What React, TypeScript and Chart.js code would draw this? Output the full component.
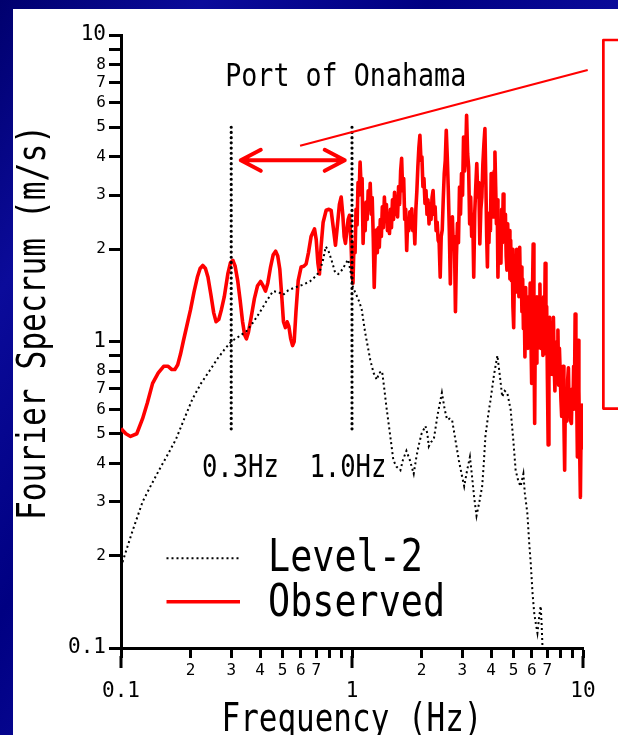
import React, { useEffect, useRef } from 'react';
import { Chart, registerables } from 'chart.js';

Chart.register(...registerables);

const FONT = '"DejaVu Sans Mono", "Liberation Mono", monospace';

// ---- data ----
const seriesNames = ['Level-2', 'Observed'];

const level2Points: [number, number][] = [
  [0.100, 0.184], [0.112, 0.24], [0.124, 0.30], [0.135, 0.34], [0.146, 0.38], [0.160, 0.43],
  [0.173, 0.48], [0.188, 0.56], [0.204, 0.65], [0.222, 0.73], [0.241, 0.80], [0.262, 0.88],
  [0.280, 0.94], [0.300, 1.00], [0.325, 1.04], [0.349, 1.08], [0.375, 1.16], [0.400, 1.25],
  [0.428, 1.36], [0.455, 1.46], [0.480, 1.45], [0.503, 1.42], [0.530, 1.47], [0.565, 1.50],
  [0.610, 1.53], [0.657, 1.57], [0.700, 1.64], [0.726, 1.70], [0.750, 1.85], [0.770, 2.04],
  [0.790, 1.98], [0.816, 1.84], [0.845, 1.68], [0.872, 1.66], [0.910, 1.72], [0.940, 1.80],
  [0.963, 1.85], [0.985, 1.70], [1.010, 1.50], [1.040, 1.43], [1.070, 1.36], [1.100, 1.28],
  [1.140, 1.07], [1.200, 0.87], [1.240, 0.79], [1.280, 0.75], [1.310, 0.79], [1.350, 0.80],
  [1.380, 0.70], [1.410, 0.61], [1.460, 0.50], [1.510, 0.41], [1.560, 0.39], [1.620, 0.38],
  [1.660, 0.41], [1.720, 0.44], [1.780, 0.41], [1.850, 0.37], [1.900, 0.42], [1.940, 0.455],
  [2.000, 0.50], [2.080, 0.53], [2.120, 0.50], [2.150, 0.455], [2.200, 0.47], [2.260, 0.48],
  [2.350, 0.58], [2.450, 0.68], [2.520, 0.60], [2.580, 0.556], [2.650, 0.56], [2.710, 0.556],
  [2.800, 0.48], [2.900, 0.41], [2.980, 0.37], [3.060, 0.337], [3.150, 0.38], [3.240, 0.42],
  [3.300, 0.37], [3.380, 0.31], [3.460, 0.27], [3.560, 0.30], [3.660, 0.337], [3.720, 0.40],
  [3.780, 0.49], [3.880, 0.57], [3.980, 0.646], [4.120, 0.78], [4.260, 0.90], [4.360, 0.78],
  [4.470, 0.66], [4.580, 0.69], [4.700, 0.68], [4.860, 0.60], [5.000, 0.47], [5.110, 0.38],
  [5.250, 0.35], [5.370, 0.337], [5.520, 0.37], [5.600, 0.32], [5.740, 0.276], [5.850, 0.22],
  [5.940, 0.189], [6.050, 0.15], [6.150, 0.13], [6.250, 0.12], [6.350, 0.112], [6.450, 0.125],
  [6.560, 0.137], [6.620, 0.12], [6.680, 0.10],
];

const observedPoints: [number, number][] = [
  [0.100, 0.52], [0.105, 0.50], [0.110, 0.49], [0.117, 0.50], [0.124, 0.56], [0.130, 0.63],
  [0.137, 0.73], [0.145, 0.79], [0.153, 0.83], [0.160, 0.83], [0.166, 0.81], [0.171, 0.81],
  [0.176, 0.84], [0.181, 0.91], [0.186, 1.00], [0.193, 1.13], [0.200, 1.27], [0.207, 1.45],
  [0.214, 1.62], [0.220, 1.73], [0.226, 1.77], [0.232, 1.73], [0.238, 1.62], [0.245, 1.42],
  [0.252, 1.24], [0.258, 1.16], [0.265, 1.18], [0.272, 1.27], [0.280, 1.40], [0.290, 1.66],
  [0.298, 1.81], [0.305, 1.84], [0.312, 1.76], [0.320, 1.58], [0.328, 1.36], [0.336, 1.16],
  [0.343, 1.05], [0.349, 1.02], [0.356, 1.07], [0.366, 1.20], [0.378, 1.38], [0.390, 1.52],
  [0.402, 1.57], [0.412, 1.52], [0.422, 1.46], [0.432, 1.55], [0.444, 1.75], [0.456, 1.92],
  [0.467, 1.97], [0.477, 1.90], [0.487, 1.72], [0.496, 1.42], [0.505, 1.16], [0.515, 1.11],
  [0.524, 1.16], [0.533, 1.12], [0.543, 1.02], [0.553, 0.97], [0.562, 1.00], [0.572, 1.25],
  [0.585, 1.58], [0.602, 1.75], [0.618, 1.76], [0.633, 1.79], [0.648, 1.95], [0.665, 2.20],
  [0.688, 2.33], [0.700, 2.15], [0.712, 1.80], [0.723, 1.66], [0.735, 2.05], [0.750, 2.45],
  [0.773, 2.68], [0.795, 2.70], [0.812, 2.68], [0.830, 2.35], [0.848, 2.06], [0.865, 2.40],
  [0.882, 2.80], [0.898, 2.96], [0.912, 2.60], [0.925, 2.20], [0.937, 2.09], [0.950, 2.30],
  [0.962, 2.50], [0.975, 2.58], [0.990, 2.10],
  [1.000, 1.70], [1.010, 1.55], [1.020, 2.10], [1.031, 1.95], [1.041, 2.70], [1.052, 2.40],
  [1.062, 3.30], [1.073, 3.00], [1.084, 3.85], [1.095, 3.20], [1.106, 3.40], [1.117, 2.09],
  [1.128, 2.70], [1.140, 2.30], [1.151, 2.85], [1.163, 2.50], [1.175, 3.10], [1.187, 2.70],
  [1.199, 3.28], [1.211, 2.60], [1.223, 2.95], [1.236, 2.19], [1.248, 1.50], [1.261, 2.00],
  [1.274, 2.31], [1.287, 1.95], [1.300, 2.35], [1.313, 2.03], [1.326, 2.50], [1.340, 2.20],
  [1.353, 2.75], [1.367, 2.35], [1.381, 2.96], [1.395, 2.50], [1.409, 2.80], [1.424, 2.30],
  [1.438, 2.60], [1.453, 2.25], [1.467, 2.70], [1.482, 2.35], [1.497, 2.90], [1.513, 2.50],
  [1.528, 3.07], [1.544, 2.60], [1.559, 2.95], [1.575, 2.55], [1.591, 3.20], [1.607, 2.80],
  [1.624, 3.60], [1.640, 3.96], [1.657, 3.10], [1.674, 3.40], [1.691, 2.50], [1.708, 2.70],
  [1.725, 1.98], [1.743, 2.50], [1.761, 2.30], [1.779, 2.65], [1.797, 2.35], [1.815, 2.71],
  [1.833, 2.30], [1.852, 2.50], [1.871, 2.08], [1.890, 2.70], [1.909, 3.10], [1.928, 3.71],
  [1.948, 4.30], [1.968, 4.71], [1.988, 3.90], [2.008, 4.00], [2.028, 3.20], [2.049, 3.40],
  [2.070, 2.82], [2.091, 3.11], [2.112, 2.60], [2.133, 2.90], [2.155, 2.42], [2.177, 2.80],
  [2.199, 2.50], [2.221, 2.95], [2.244, 3.11], [2.267, 2.60], [2.290, 2.75], [2.313, 2.30],
  [2.337, 2.45], [2.360, 2.14], [2.384, 2.10], [2.409, 1.62], [2.433, 2.20], [2.458, 2.31],
  [2.483, 2.90], [2.508, 3.53], [2.534, 3.90], [2.559, 4.89], [2.585, 4.00], [2.612, 3.11],
  [2.638, 2.30], [2.665, 1.54], [2.692, 2.30], [2.720, 2.55], [2.747, 2.00], [2.775, 2.20],
  [2.804, 1.25], [2.832, 1.90], [2.861, 2.43], [2.890, 2.10], [2.920, 3.19], [2.949, 2.60],
  [2.979, 3.53], [3.010, 3.00], [3.040, 4.65], [3.071, 3.60], [3.103, 3.96], [3.134, 5.47],
  [3.166, 4.10], [3.198, 3.71], [3.231, 2.42], [3.264, 2.96], [3.297, 2.20], [3.331, 2.60],
  [3.365, 1.62], [3.399, 2.63], [3.434, 3.20], [3.469, 3.81], [3.504, 2.96], [3.540, 3.30],
  [3.576, 2.08], [3.612, 2.70], [3.649, 2.96], [3.686, 3.80], [3.724, 4.40], [3.762, 4.95],
  [3.800, 3.20], [3.829, 2.20], [3.857, 1.75], [3.886, 2.60], [3.915, 2.10], [3.945, 2.63],
  [3.974, 2.30], [4.004, 3.53], [4.034, 2.60], [4.064, 3.10], [4.095, 2.55], [4.126, 3.60],
  [4.157, 4.15], [4.188, 3.20], [4.219, 2.42], [4.251, 2.90], [4.283, 1.62], [4.315, 2.30],
  [4.347, 1.90], [4.380, 2.31], [4.413, 1.80], [4.446, 2.70], [4.479, 2.10], [4.513, 3.03],
  [4.547, 2.30], [4.581, 2.14], [4.615, 2.60], [4.650, 1.90], [4.685, 1.71], [4.720, 2.42],
  [4.755, 1.90], [4.791, 2.30], [4.827, 1.60], [4.863, 2.14], [4.900, 1.58], [4.936, 2.00],
  [4.973, 1.30], [5.011, 1.11], [5.048, 1.70], [5.086, 1.45], [5.124, 1.62], [5.163, 2.00],
  [5.202, 1.50], [5.241, 1.83], [5.280, 1.40], [5.320, 2.03], [5.359, 1.45], [5.400, 1.75],
  [5.440, 1.25], [5.481, 1.60], [5.522, 1.10], [5.563, 1.40], [5.605, 0.89], [5.647, 1.50],
  [5.690, 1.00], [5.732, 1.34], [5.775, 0.95], [5.819, 1.40], [5.862, 1.00], [5.906, 1.55],
  [5.951, 1.03], [5.995, 0.73], [6.040, 1.40], [6.086, 2.08], [6.131, 1.10], [6.177, 0.54],
  [6.224, 1.30], [6.270, 0.85], [6.317, 1.40], [6.365, 0.95], [6.412, 1.35], [6.461, 1.00],
  [6.509, 1.54], [6.558, 0.95], [6.607, 1.17], [6.657, 1.30], [6.707, 0.90], [6.757, 1.40],
  [6.808, 1.00], [6.859, 1.80], [6.910, 0.91], [6.962, 1.30], [7.014, 0.75], [7.067, 0.46],
  [7.120, 1.00], [7.173, 1.20], [7.227, 0.78], [7.281, 0.96], [7.336, 1.15], [7.391, 0.78],
  [7.446, 1.20], [7.502, 0.85], [7.558, 0.69], [7.615, 0.95], [7.672, 0.80], [7.730, 1.00],
  [7.788, 1.09], [7.846, 0.72], [7.905, 0.95], [7.964, 0.80], [8.024, 0.65], [8.084, 0.57],
  [8.145, 0.80], [8.206, 0.83], [8.267, 0.55], [8.329, 0.38], [8.392, 0.70], [8.455, 0.69],
  [8.518, 0.55], [8.582, 0.75], [8.646, 0.82], [8.711, 0.60], [8.776, 0.69], [8.842, 0.55],
  [8.908, 0.54], [8.975, 0.70], [9.042, 0.60], [9.110, 0.83], [9.178, 0.65], [9.247, 1.23],
  [9.316, 0.60], [9.386, 0.69], [9.457, 0.42], [9.528, 1.01], [9.599, 0.69], [9.671, 0.45],
  [9.743, 0.31], [9.816, 0.54], [9.890, 0.62], [9.964, 0.45], [10.00, 0.56],
];

const tickValues = [0.1, 0.2, 0.3, 0.4, 0.5, 0.6, 0.7, 0.8, 0.9, 1, 2, 3, 4, 5, 6, 7, 8, 9, 10];
const xTickLabels = ['0.1', '2', '3', '4', '5', '6', '7', '', '', '1', '2', '3', '4', '5', '6', '7', '', '', '10'];
const yTickLabels = ['0.1', '2', '3', '4', '5', '6', '7', '8', '', '1', '2', '3', '4', '5', '6', '7', '8', '', '10'];

const xTitle = 'Frequency (Hz)';
const yTitle = 'Fourier Specrum (m/s)';
const siteTitle = 'Port of Onahama';
const markerFreqs = [0.3, 1.0];
const markerLabels = ['0.3Hz', '1.0Hz'];

// ---- annotation placement (data coordinates) ----
const markerRange = [0.5, 5];
const markerLabelAnchors: [number, number][] = [[0.224, 0.36], [0.654, 0.362]];
const siteTitleAnchor: [number, number] = [0.2826, 6.81];
const arrowSpan = [0.33, 0.93];
const arrowLevel = 3.9;
const leaderLine: [number, number][] = [[0.596, 4.35], [10.48, 7.69]];
const boxBounds = { left: 12.25, top: 9.63, bottom: 0.604, right: 40 };

const RED = '#ff0000';

const isMajor = (v?: number) =>
  typeof v === 'number' && v > 0 && Math.abs(Math.log10(v) - Math.round(Math.log10(v))) < 1e-6;

function fitText(ctx: CanvasRenderingContext2D, text: string, x: number, y: number, size: number, width: number, rotation = 0) {
  ctx.save();
  ctx.font = `${size}px ${FONT}`;
  const natural = ctx.measureText(text).width || 1;
  ctx.translate(x, y);
  if (rotation) ctx.rotate(rotation);
  ctx.scale(width / natural, 1);
  ctx.textAlign = 'left';
  ctx.textBaseline = 'alphabetic';
  ctx.fillStyle = '#000';
  ctx.fillText(text, 0, 0);
  ctx.restore();
}

const decorPlugin = {
  id: 'decor',
  afterDatasetsDraw(chart: any) {
    const { ctx, chartArea } = chart;
    const xs = chart.scales.x;
    const ys = chart.scales.y;
    const px = (v: number) => xs.getPixelForValue(v);
    const py = (v: number) => ys.getPixelForValue(v);

    ctx.save();

    // longer tick marks on decades of x axis
    ctx.strokeStyle = '#000';
    ctx.lineWidth = 3;
    tickValues.filter((v) => isMajor(v)).forEach((v) => {
      ctx.beginPath();
      ctx.moveTo(px(v), chartArea.bottom + 8);
      ctx.lineTo(px(v), chartArea.bottom + 20);
      ctx.stroke();
    });

    // vertical dotted frequency markers
    ctx.lineWidth = 3.2;
    ctx.lineCap = 'round';
    ctx.setLineDash([0, 5.2]);
    markerFreqs.forEach((f) => {
      ctx.beginPath();
      ctx.moveTo(px(f), py(markerRange[1]));
      ctx.lineTo(px(f), py(markerRange[0]));
      ctx.stroke();
    });
    ctx.setLineDash([]);

    // double arrow
    ctx.strokeStyle = RED;
    ctx.lineWidth = 4;
    ctx.lineCap = 'round';
    ctx.lineJoin = 'round';
    const ax1 = px(arrowSpan[0]);
    const ax2 = px(arrowSpan[1]);
    const ay = py(arrowLevel);
    ctx.beginPath();
    ctx.moveTo(ax1, ay);
    ctx.lineTo(ax2, ay);
    ctx.moveTo(ax1 + 20, ay - 10.5);
    ctx.lineTo(ax1, ay);
    ctx.lineTo(ax1 + 20, ay + 10.5);
    ctx.moveTo(ax2 - 20, ay - 10.5);
    ctx.lineTo(ax2, ay);
    ctx.lineTo(ax2 - 20, ay + 10.5);
    ctx.stroke();

    // leader line
    ctx.lineWidth = 2.2;
    ctx.lineCap = 'butt';
    ctx.beginPath();
    ctx.moveTo(px(leaderLine[0][0]), py(leaderLine[0][1]));
    ctx.lineTo(px(leaderLine[1][0]), py(leaderLine[1][1]));
    ctx.stroke();

    // callout box
    ctx.lineWidth = 2.7;
    const bl = px(boxBounds.left);
    const bt = py(boxBounds.top);
    const br = px(boxBounds.right);
    const bb = py(boxBounds.bottom);
    ctx.strokeRect(bl, bt, br - bl, bb - bt);

    // texts
    fitText(ctx, siteTitle, px(siteTitleAnchor[0]), py(siteTitleAnchor[1]), 31.5, 241);
    markerLabels.forEach((t, i) => {
      fitText(ctx, t, px(markerLabelAnchors[i][0]), py(markerLabelAnchors[i][1]), 32, 77);
    });

    // axis titles
    const cx = (chartArea.left + chartArea.right) / 2;
    fitText(ctx, xTitle, cx - 130.5, 731, 39, 261);
    fitText(ctx, yTitle, 45, 322.5 + 197.5, 39, 395, -Math.PI / 2);

    // legend
    const ds = chart.data.datasets;
    const lx1 = chartArea.left + 45.5;
    const lx2 = chartArea.left + 119;
    const tx = chartArea.left + 147;
    const rows = [
      { lineY: chartArea.top + 523.3, baseY: chartArea.top + 536, width: 155 },
      { lineY: chartArea.top + 566.7, baseY: chartArea.top + 581, width: 177 },
    ];
    ds.forEach((d: any, i: number) => {
      const r = rows[i];
      ctx.save();
      ctx.strokeStyle = d.borderColor;
      ctx.lineWidth = d.borderWidth;
      ctx.lineCap = 'butt';
      ctx.setLineDash(d.borderDash || []);
      ctx.beginPath();
      ctx.moveTo(lx1, r.lineY);
      ctx.lineTo(lx2, r.lineY);
      ctx.stroke();
      ctx.restore();
      fitText(ctx, d.label, tx, r.baseY, 44, r.width);
    });

    ctx.restore();
  },
};

export default function App() {
  const canvasRef = useRef<HTMLCanvasElement | null>(null);

  useEffect(() => {
    const canvas = canvasRef.current;
    if (!canvas) return;

    const chart = new Chart(canvas, {
      type: 'line',
      data: {
        datasets: [
          {
            label: seriesNames[0],
            data: level2Points.map(([x, y]) => ({ x, y })),
            borderColor: '#000000',
            borderWidth: 2,
            borderDash: [2, 3],
            pointRadius: 0,
            fill: false,
            tension: 0,
          },
          {
            label: seriesNames[1],
            data: observedPoints.map(([x, y]) => ({ x, y })),
            borderColor: RED,
            borderWidth: 3.6,
            borderJoinStyle: 'round',
            pointRadius: 0,
            fill: false,
            tension: 0,
          },
        ],
      },
      options: {
        animation: false,
        responsive: false,
        maintainAspectRatio: false,
        parsing: false,
        layout: { padding: { top: 35, right: 35, left: 0, bottom: 0 } },
        plugins: {
          legend: { display: false },
          tooltip: { enabled: false },
          title: { display: false },
        },
        scales: {
          x: {
            type: 'logarithmic',
            min: 0.1,
            max: 10,
            afterBuildTicks: (s: any) => {
              s.ticks = tickValues.map((v) => ({ value: v, major: isMajor(v) }));
            },
            afterFit: (s: any) => {
              s.height = 87;
            },
            border: { display: true, color: '#000', width: 3 },
            grid: { drawOnChartArea: false, drawTicks: true, tickLength: 10, tickWidth: 3, tickColor: '#000' },
            ticks: {
              autoSkip: false,
              maxRotation: 0,
              minRotation: 0,
              padding: 4.5,
              color: '#000',
              font: (c: any) =>
                isMajor(c?.tick?.value)
                  ? { family: FONT, size: 21, lineHeight: 0.92 }
                  : { family: FONT, size: 16, lineHeight: 1 },
              callback: (value: any, index: number) => {
                const lbl = xTickLabels[index] ?? '';
                return isMajor(Number(value)) ? ['', lbl] : lbl;
              },
            },
          },
          y: {
            type: 'logarithmic',
            min: 0.1,
            max: 10,
            afterBuildTicks: (s: any) => {
              s.ticks = tickValues.map((v) => ({ value: v, major: isMajor(v) }));
            },
            afterFit: (s: any) => {
              s.width = 121;
            },
            border: { display: true, color: '#000', width: 3 },
            grid: { drawOnChartArea: false, drawTicks: true, tickLength: 12, tickWidth: 3, tickColor: '#000' },
            ticks: {
              autoSkip: false,
              padding: 3,
              color: '#000',
              font: (c: any) =>
                isMajor(c?.tick?.value)
                  ? { family: FONT, size: 21, lineHeight: 1 }
                  : { family: FONT, size: 16, lineHeight: 1 },
              callback: (_value: any, index: number) => yTickLabels[index] ?? '',
            },
          },
        },
      },
      plugins: [decorPlugin],
    } as any);

    return () => chart.destroy();
  }, []);

  return (
    <div
      style={{
        position: 'fixed',
        left: 0,
        top: 0,
        width: 618,
        height: 735,
        overflow: 'hidden',
        background:
          'linear-gradient(125deg, #00006e 0%, #0b0b9a 18%, #000082 38%, #0d0da0 60%, #00007a 80%, #0a0a94 100%)',
      }}
    >
      <div style={{ position: 'absolute', left: 13, top: 9, right: 0, bottom: 0, background: '#ffffff' }} />
      <canvas
        ref={canvasRef}
        width={618}
        height={735}
        style={{ position: 'absolute', left: 0, top: 0, width: 618, height: 735 }}
      />
    </div>
  );
}
